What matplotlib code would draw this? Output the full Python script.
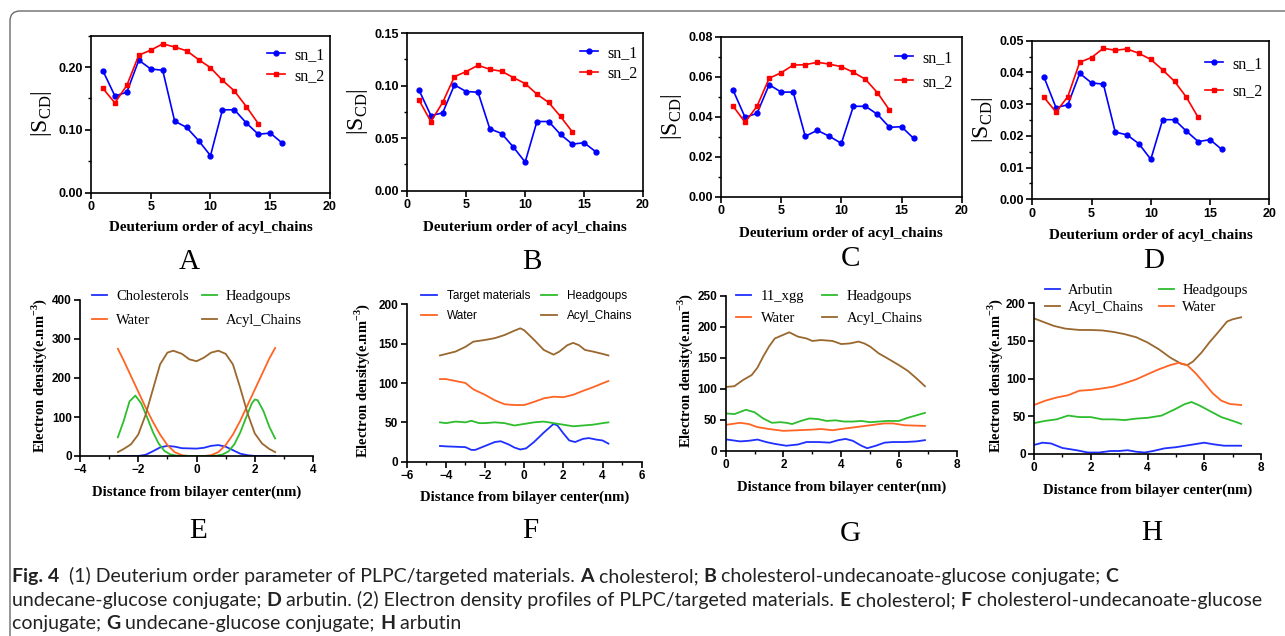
import numpy as np
import matplotlib
matplotlib.use("Agg")
import matplotlib.pyplot as plt
from matplotlib.patches import FancyBboxPatch
from matplotlib.transforms import IdentityTransform
from matplotlib.font_manager import FontProperties
from matplotlib.ticker import MultipleLocator

plt.rcParams['mathtext.fontset'] = 'custom'
plt.rcParams['mathtext.rm'] = 'Liberation Serif:normal'
plt.rcParams['mathtext.bf'] = 'Liberation Serif:bold'

# ---------------- order parameter data (A-D) ----------------
carbon_sn1 = list(range(1, 17))
carbon_sn2 = list(range(1, 15))

A_sn1 = [0.194, 0.154, 0.160, 0.211, 0.197, 0.195, 0.114, 0.104, 0.083, 0.059,
         0.132, 0.132, 0.111, 0.093, 0.095, 0.079]
A_sn2 = [0.166, 0.143, 0.171, 0.219, 0.227, 0.237, 0.232, 0.226, 0.212, 0.199,
         0.179, 0.162, 0.137, 0.110]
B_sn1 = [0.0956, 0.0715, 0.0740, 0.1006, 0.0943, 0.0937, 0.0589, 0.0544, 0.0415, 0.0272,
         0.0658, 0.0658, 0.0535, 0.0443, 0.0456, 0.0370]
B_sn2 = [0.0860, 0.0658, 0.0839, 0.1085, 0.1133, 0.1193, 0.1155, 0.1136, 0.1076, 0.1019,
         0.0918, 0.0839, 0.0706, 0.0560]
C_sn1 = [0.0533, 0.0397, 0.0417, 0.0560, 0.0523, 0.0523, 0.0302, 0.0332, 0.0302, 0.0267,
         0.0452, 0.0452, 0.0412, 0.0347, 0.0350, 0.0292]
C_sn2 = [0.0453, 0.0372, 0.0453, 0.0592, 0.0620, 0.0658, 0.0660, 0.0672, 0.0663, 0.0650,
         0.0622, 0.0587, 0.0520, 0.0433]
D_sn1 = [0.0384, 0.0289, 0.0298, 0.0397, 0.0367, 0.0363, 0.0212, 0.0203, 0.0175, 0.0126,
         0.0251, 0.0251, 0.0215, 0.0182, 0.0188, 0.0157]
D_sn2 = [0.0321, 0.0275, 0.0324, 0.0432, 0.0447, 0.0476, 0.0470, 0.0474, 0.0460, 0.0441,
         0.0408, 0.0372, 0.0322, 0.0258]

A_yticks = [0.00, 0.10, 0.20]
B_yticks = [0.00, 0.05, 0.10, 0.15]
C_yticks = [0.00, 0.02, 0.04, 0.06, 0.08]
D_yticks = [0.00, 0.01, 0.02, 0.03, 0.04, 0.05]

# ---------------- electron density data (E-H) ----------------
E_water_x = [-2.7, -2.5, -2.25, -2.0, -1.75, -1.5, -1.25, -1.0, -0.75, -0.5, -0.25, 0, 0.25,
             0.5, 0.75, 1.0, 1.25, 1.5, 1.75, 2.0, 2.25, 2.5, 2.7]
E_water = [275, 245, 205, 165, 125, 88, 55, 28, 10, 2, 0, 0, 0, 2, 10, 28, 55, 90, 130, 170,
           210, 250, 277]
E_head_x = [-2.7, -2.5, -2.3, -2.1, -1.9, -1.7, -1.5, -1.3, -1.1, -0.9, -0.7, -0.5, 0, 0.5,
            0.7, 0.9, 1.1, 1.3, 1.5, 1.7, 1.9, 2.0, 2.1, 2.3, 2.5, 2.7]
E_head = [48, 90, 140, 155, 135, 100, 62, 32, 13, 4, 1, 0, 0, 0, 1, 4, 12, 30, 60, 98, 135,
          145, 143, 115, 75, 45]
E_acyl_x = [-2.7, -2.5, -2.25, -2.0, -1.75, -1.5, -1.25, -1.0, -0.8, -0.5, -0.25, 0, 0.25,
            0.5, 0.75, 1.0, 1.25, 1.5, 1.75, 2.0, 2.25, 2.5, 2.7]
E_acyl = [10, 18, 30, 55, 105, 170, 235, 265, 270, 262, 248, 243, 252, 265, 270, 262, 235,
          175, 110, 58, 32, 18, 10]
E_chol_x = [-2.7, -2.0, -1.75, -1.5, -1.25, -1.0, -0.75, -0.5, 0, 0.25, 0.5, 0.75, 1.0, 1.25,
            1.5, 1.75, 2.0, 2.7]
E_chol = [0, 0, 3, 12, 22, 26, 24, 20, 19, 21, 26, 28, 24, 15, 6, 2, 0, 0]

F_acyl_x = [-4.3, -3.5, -3.0, -2.6, -2.0, -1.5, -1.0, -0.5, -0.2, 0, 0.5, 1.0, 1.5, 1.8, 2.2,
            2.5, 2.8, 3.1, 3.5, 4.0, 4.3]
F_acyl = [135, 140, 146, 152.5, 154.7, 157, 161, 166.5, 169.5, 167, 155, 142, 136, 140, 148,
          151, 148, 142, 140, 137, 135]
F_water_x = [-4.3, -4.0, -3.5, -3.0, -2.6, -2.0, -1.5, -1.0, -0.5, 0, 0.5, 1.0, 1.5, 2.0,
             2.5, 3.0, 3.5, 4.0, 4.3]
F_water = [105, 105, 102.5, 100, 92, 85, 78, 73, 72, 72, 76, 80.5, 82.6, 82, 85, 90, 94.5,
           99.6, 102.5]
F_head_x = [-4.3, -4.0, -3.5, -3.0, -2.7, -2.3, -2.0, -1.5, -1.0, -0.5, 0, 0.5, 1.0, 1.5,
            2.0, 2.5, 3.0, 3.5, 4.0, 4.3]
F_head = [50, 49, 51, 50, 52, 49, 49, 50, 49, 46, 48, 50, 51, 49, 47, 45, 46, 47, 49, 50]
F_target_x = [-4.3, -4.0, -3.5, -3.0, -2.7, -2.5, -2.0, -1.5, -1.2, -0.8, -0.5, -0.2, 0.1,
              0.5, 1.0, 1.5, 1.7, 2.0, 2.3, 2.6, 3.0, 3.3, 3.7, 4.0, 4.3]
F_target = [20, 19.5, 19, 18.5, 15, 15, 20, 25, 26, 22, 18, 15.5, 17, 25, 37, 48, 46, 36, 27,
            25, 29, 30, 28, 27, 23]

G_acyl_x = [0.05, 0.3, 0.6, 0.9, 1.1, 1.3, 1.5, 1.7, 1.9, 2.2, 2.5, 2.8, 3.0, 3.3, 3.7, 4.0,
            4.3, 4.6, 4.8, 5.0, 5.3, 5.6, 6.0, 6.3, 6.6, 6.9]
G_acyl = [103, 104, 114, 122, 134, 152, 168, 181, 185, 191, 184, 181, 177, 178.5, 177, 172,
          173, 176, 173, 168, 157, 149, 138, 129, 117, 104]
G_head_x = [0.05, 0.3, 0.7, 1.0, 1.3, 1.6, 1.9, 2.1, 2.3, 2.6, 2.9, 3.2, 3.5, 3.8, 4.1, 4.4,
            4.7, 5.0, 5.3, 5.6, 6.0, 6.3, 6.6, 6.9]
G_head = [60, 59, 66, 62, 52, 45, 46, 45, 43, 48, 52, 51, 48, 49, 47, 47, 48, 46, 47, 48, 48,
          53, 57, 61]
G_water_x = [0.05, 0.5, 0.8, 1.1, 1.5, 2.0, 2.5, 3.0, 3.3, 3.7, 4.0, 4.5, 5.0, 5.5, 5.8, 6.2,
             6.9]
G_water = [42, 45, 43, 38, 35, 32, 33, 34, 35, 33, 35, 38, 41, 44, 44, 41, 40]
G_xgg_x = [0.05, 0.5, 0.8, 1.1, 1.4, 1.7, 2.1, 2.5, 2.8, 3.2, 3.6, 3.9, 4.15, 4.4, 4.7, 4.9,
           5.2, 5.5, 5.8, 6.2, 6.6, 6.9]
G_xgg = [18, 15, 16, 18, 14, 11, 8, 10, 14, 14, 13, 17, 19, 16, 8, 4, 8, 13, 14, 14, 15, 17]

H_acyl_x = [0.0, 0.3, 0.7, 1.1, 1.6, 2.0, 2.4, 2.8, 3.2, 3.6, 4.0, 4.4, 4.8, 5.2, 5.4, 5.6,
            5.9, 6.2, 6.5, 6.8, 7.0, 7.3]
H_acyl = [180, 175.7, 170, 166.4, 164.6, 164.6, 164, 162, 159, 155, 148, 139, 128, 119.5,
          118, 122.6, 134.5, 149, 162, 175.7, 178.8, 181.4]
H_water_x = [0.0, 0.4, 0.8, 1.2, 1.6, 2.0, 2.4, 2.8, 3.2, 3.6, 4.0, 4.4, 4.8, 5.1, 5.4, 5.7,
             6.0, 6.3, 6.6, 6.9, 7.3]
H_water = [65, 70.8, 75, 78, 84, 85, 87, 89.4, 94, 99, 105.8, 112.4, 118, 121, 118, 107, 94,
           80.5, 70.8, 66.4, 65]
H_head_x = [0.0, 0.4, 0.8, 1.2, 1.6, 2.0, 2.4, 2.8, 3.2, 3.6, 4.0, 4.5, 5.0, 5.3, 5.55, 5.8,
            6.2, 6.6, 7.0, 7.3]
H_head = [41, 44, 46, 51, 49, 49, 46, 46, 45, 47, 48, 51, 60, 66, 69, 65, 57, 49, 44, 40]
H_arb_x = [0.0, 0.3, 0.6, 1.0, 1.5, 1.9, 2.3, 2.7, 3.0, 3.3, 3.6, 3.9, 4.2, 4.6, 5.0, 5.5,
           6.0, 6.3, 6.7, 7.3]
H_arb = [12, 15, 14, 8, 5, 2, 2, 4, 4, 5, 3, 2, 4, 7.5, 9, 12, 15, 13, 11, 11]

BLUE = '#1f2fff'
GREEN = '#2dbd2d'
ORANGE = '#ff6424'
BROWN = '#9a672e'

W, H = 1285, 636
fig = plt.figure(figsize=(W / 100, H / 100), dpi=100)

frame = FancyBboxPatch((10, -20), 1320, H - 11 + 20, boxstyle='round,pad=0,rounding_size=10',
                       transform=IdentityTransform(), fill=False, ec='#6a6a6a', lw=1.0)
fig.add_artist(frame)

SERIF = 'Liberation Serif'


def add_ax(l, r, t, b):
    return fig.add_axes([l / W, 1 - b / H, (r - l) / W, (b - t) / H])


def fig_text(x, y, s, **kw):
    return fig.text(x / W, 1 - y / H, s, **kw)


def style(ax, full_box, lsize):
    for side in ['left', 'bottom', 'top', 'right']:
        ax.spines[side].set_linewidth(1.2)
    if not full_box:
        ax.spines['top'].set_visible(False)
        ax.spines['right'].set_visible(False)
    ax.tick_params(which='major', direction='out', length=4, width=1.2, labelsize=lsize, pad=2)
    ax.tick_params(which='minor', direction='out', length=2.5, width=1.0)
    for lab in ax.get_xticklabels() + ax.get_yticklabels():
        lab.set_fontweight('bold')
        lab.set_family('Liberation Sans')


# ---------------- top row ----------------
top = [
    ('A', A_sn1, A_sn2, A_yticks, 0.25, '%.2f', (91, 330, 35.7, 192.7), 42, 114, 228, (189, 262),
     (267, 47, 0.30)),
    ('B', B_sn1, B_sn2, B_yticks, 0.15, '%.2f', (407.3, 643, 33, 190.7), 357.5, 112, 227,
     (532, 262), (580, 45, 0.26)),
    ('C', C_sn1, C_sn2, C_yticks, 0.08, '%.2f', (721, 961.7, 36.7, 196.7), 671, 117, 234,
     (850, 259), (895, 50, 0.49)),
    ('D', D_sn1, D_sn2, D_yticks, 0.05, '%.2f', (1032.3, 1269.3, 40.7, 199.3), 983, 120, 235,
     (1154, 261), (1205, 56, 0.72)),
]
for name, s1, s2, yt, ymax, fmt, box, ylx, yly, xly, letter, leg in top:
    ax = add_ax(*box)
    ax.plot(carbon_sn1, s1, color='#0000ff', lw=1.2, marker='o', ms=3.5, label='sn_1')
    ax.plot(carbon_sn2, s2, color='#ff0000', lw=1.2, marker='s', ms=3.5, label='sn_2')
    ax.set_xlim(0, 20)
    ax.set_ylim(0, ymax)
    ax.set_xticks([0, 5, 10, 15, 20])
    ax.set_yticks(yt, [fmt % v for v in yt])
    ax.yaxis.set_minor_locator(MultipleLocator((yt[1] - yt[0]) / 2))
    style(ax, True, 9)
    ax.legend(loc='upper left', bbox_to_anchor=(leg[0] / W, 1 - leg[1] / H),
              bbox_transform=fig.transFigure, frameon=False, borderpad=0, borderaxespad=0,
              handlelength=1.1, handletextpad=0.6, labelspacing=leg[2],
              prop=FontProperties(family=SERIF, size=11.5))
    fig_text(ylx, yly, r'$|\mathrm{S}_{\mathrm{CD}}|$', rotation=90, ha='center', va='center',
             fontsize=17)
    fig_text((box[0] + box[1]) / 2, xly, 'Deuterium order of acyl_chains', family=SERIF,
             fontweight='bold', fontsize=10.9, ha='center', va='center')
    fig_text(letter[0], letter[1], name, family=SERIF, fontsize=21, ha='center', va='center')

# ---------------- bottom row ----------------
bottom = [
    ('E', [(E_chol_x, E_chol, BLUE, 'Cholesterols'), (E_water_x, E_water, ORANGE, 'Water'),
           (E_head_x, E_head, GREEN, 'Headgoups'), (E_acyl_x, E_acyl, BROWN, 'Acyl_Chains')],
     (-4, 4), [-4, -2, 0, 2, 4], (0, 400), [0, 100, 200, 300, 400],
     (80, 313, 300, 456), 39, 492, (198, 531),
     dict(x=92, y=290, ls=0.7, cs=0.9, fam=SERIF, size=10.5, hl=1.05, tp=0.6)),
    ('F', [(F_target_x, F_target, BLUE, 'Target materials'), (F_water_x, F_water, ORANGE, 'Water'),
           (F_head_x, F_head, GREEN, 'Headgoups'), (F_acyl_x, F_acyl, BROWN, 'Acyl_Chains')],
     (-6, 6), [-6, -4, -2, 0, 2, 4, 6], (0, 200), [0, 50, 100, 150, 200],
     (406.7, 641.7, 304.3, 461.7), 362, 497, (530, 531),
     dict(x=421, y=290, ls=0.7, cs=0.85, fam='Liberation Sans', size=8.5, hl=1.36, tp=0.85)),
    ('G', [(G_xgg_x, G_xgg, BLUE, '11_xgg'), (G_water_x, G_water, ORANGE, 'Water'),
           (G_head_x, G_head, GREEN, 'Headgoups'), (G_acyl_x, G_acyl, BROWN, 'Acyl_Chains')],
     (0, 8), [0, 2, 4, 6, 8], (0, 250), [0, 50, 100, 150, 200, 250],
     (725.7, 956.7, 295.7, 450.7), 685, 487, (850, 534),
     dict(x=736, y=290, ls=0.6, cs=1.2, fam=SERIF, size=10.5, hl=1.05, tp=0.65)),
    ('H', [(H_arb_x, H_arb, BLUE, 'Arbutin'), (H_acyl_x, H_acyl, BROWN, 'Acyl_Chains'),
           (H_head_x, H_head, GREEN, 'Headgoups'), (H_water_x, H_water, ORANGE, 'Water')],
     (0, 8), [0, 2, 4, 6, 8], (0, 200), [0, 50, 100, 150, 200],
     (1034, 1261, 303.3, 454), 995, 490, (1152, 533),
     dict(x=1045, y=284, ls=0.25, cs=1.0, fam=SERIF, size=10.5, hl=1.05, tp=0.55)),
]
for name, series, xl, xt, yl, yt, box, ylx, xly, letter, lg in bottom:
    ax = add_ax(*box)
    for xs, ys, c, lab in series:
        ax.plot(xs, ys, color=c, lw=1.3, label=lab)
    ax.set_xlim(*xl)
    ax.set_ylim(*yl)
    ax.set_xticks(xt)
    ax.set_yticks(yt)
    ax.xaxis.set_minor_locator(MultipleLocator(1))
    style(ax, False, 8.5)
    ax.legend(loc='upper left', bbox_to_anchor=(lg['x'] / W, 1 - lg['y'] / H),
              bbox_transform=fig.transFigure, frameon=False, borderpad=0, borderaxespad=0,
              ncol=2, handlelength=lg['hl'], handletextpad=lg['tp'], labelspacing=lg['ls'],
              columnspacing=lg['cs'], prop=FontProperties(family=lg['fam'], size=lg['size']))
    fig_text(ylx, (box[2] + box[3]) / 2 - 3, r'Electron density(e.nm$^{\mathbf{-3}}$)',
             rotation=90, ha='center', va='center', family=SERIF, fontweight='bold',
             fontsize=10.5)
    fig_text((box[0] + box[1]) / 2, xly, 'Distance from bilayer center(nm)', family=SERIF,
             fontweight='bold', fontsize=10.6, ha='center', va='center')
    fig_text(letter[0], letter[1], name, family=SERIF, fontsize=21, ha='center', va='center')

# ---------------- caption ----------------
CAP_FONT = 'Lato'
CAP_SIZE = 14
caption = [
    [('Fig. 4', True), ('  (1) Deuterium order parameter of PLPC/targeted materials. ', False),
     ('A', True), (' cholesterol; ', False), ('B', True),
     (' cholesterol-undecanoate-glucose conjugate; ', False), ('C', True)],
    [('undecane-glucose conjugate; ', False), ('D', True),
     (' arbutin. (2) Electron density profiles of PLPC/targeted materials. ', False),
     ('E', True), (' cholesterol; ', False), ('F', True),
     (' cholesterol-undecanoate-glucose', False)],
    [('conjugate; ', False), ('G', True), (' undecane-glucose conjugate; ', False), ('H', True),
     (' arbutin', False)],
]
baselines = [582, 606, 629]
renderer = fig.canvas.get_renderer()
for parts, yb in zip(caption, baselines):
    x = 12
    for txt, bold in parts:
        t = fig_text(x, yb, txt, family=CAP_FONT, fontsize=CAP_SIZE,
                     fontweight='bold' if bold else 'normal', va='baseline', ha='left',
                     color='#222222')
        x += t.get_window_extent(renderer).width

fig.savefig('out.png', dpi=100)
